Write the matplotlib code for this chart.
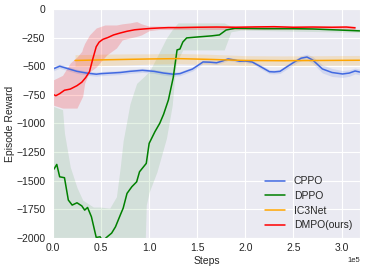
import matplotlib
matplotlib.use("Agg")
import matplotlib.pyplot as plt
import seaborn as sns
import numpy as np

sns.set_style("darkgrid")
plt.rcParams['font.family'] = ['Liberation Sans', 'DejaVu Sans']

# ---- data (steps in units of 1e5) ----
cppo_x = [0, 0.07, 0.15, 0.25, 0.35, 0.45, 0.5, 0.6, 0.7, 0.8, 0.93, 1.05, 1.15, 1.25, 1.32, 1.4, 1.45,
          1.56, 1.63, 1.7, 1.76, 1.82, 1.88, 1.94, 2.0, 2.07, 2.15, 2.25, 2.3, 2.36, 2.45, 2.51, 2.58,
          2.64, 2.7, 2.8, 2.9, 3.01, 3.08, 3.14, 3.2]
cppo_y = [-525, -500, -520, -545, -560, -570, -565, -560, -555, -545, -536, -545, -560, -570, -565, -540, -525,
          -463, -465, -470, -455, -437, -445, -457, -455, -463, -500, -548, -550, -545, -495, -463, -430,
          -420, -446, -524, -555, -568, -560, -542, -553]
cppo_err = [18, 18, 18, 18, 18, 18, 18, 18, 18, 18, 18, 18, 18, 18, 18, 18, 18,
            15, 15, 15, 15, 15, 15, 15, 15, 15, 18, 18, 18, 18, 20, 20, 22,
            25, 30, 35, 35, 30, 28, 25, 25]

ic3_x = [0.23, 0.5, 0.8, 1.0, 1.3, 1.6, 2.0, 2.4, 2.8, 3.2]
ic3_y = [-450, -445, -440, -437, -434, -440, -450, -452, -450, -448]
ic3_err = [50, 50, 48, 45, 45, 45, 42, 42, 42, 42]

dmpo_x = [0, 0.03, 0.07, 0.12, 0.18, 0.25, 0.3, 0.34, 0.38, 0.41, 0.45, 0.48, 0.52, 0.57, 0.63, 0.7,
          0.77, 0.85, 0.94, 1.02, 1.11, 1.2, 1.32, 1.5, 1.7, 1.9, 2.1, 2.3, 2.5, 2.7, 2.9, 3.05, 3.14]
dmpo_y = [-745, -758, -740, -710, -700, -670, -640, -600, -548, -450, -330, -290, -265, -250, -227, -210,
          -195, -182, -175, -170, -166, -163, -163, -160, -158, -160, -157, -155, -160, -158, -160, -158, -165]
dmpo_band_x = [0, 0.1, 0.18, 0.25, 0.3, 0.31, 0.33, 0.38, 0.45, 0.54, 0.56, 0.66, 0.72, 0.8, 0.87, 0.92,
               1.0, 1.1, 3.14]
dmpo_upper = [-621, -580, -472, -420, -370, -341, -300, -227, -166, -140, -140, -140, -130, -122, -110, -130,
              -150, -150, -150]
dmpo_lower = [-839, -866, -866, -866, -778, -760, -647, -551, -507, -420, -402, -341, -271, -253, -240, -227,
              -190, -180, -180]

dppo_x = [0.01, 0.04, 0.07, 0.12, 0.16, 0.2, 0.25, 0.3, 0.33, 0.36, 0.4, 0.45, 0.49, 0.52, 0.55, 0.61,
          0.65, 0.7, 0.73, 0.77, 0.82, 0.87, 0.9, 0.97, 1.0, 1.06, 1.11, 1.15, 1.2, 1.25, 1.29, 1.32,
          1.35, 1.39, 1.5, 1.65, 1.73, 1.8, 1.89, 2.2, 2.5, 2.7, 3.0, 3.2]
dppo_y = [-1400, -1358, -1466, -1474, -1669, -1713, -1693, -1720, -1757, -1734, -1815, -1996, -1990, -2030,
          -2000, -1958, -1903, -1800, -1740, -1611, -1553, -1510, -1422, -1349, -1174, -1072, -999, -920,
          -795, -600, -358, -350, -289, -253, -245, -235, -227, -184, -169, -172, -172, -175, -185, -192]
dppo_band_x = [0, 0.1, 0.12, 0.18, 0.25, 0.31, 0.42, 0.49, 0.59, 0.66, 0.7, 0.73, 0.77, 0.8, 0.87, 0.96,
               0.97, 1.0, 1.08, 1.18, 1.24, 1.27, 1.29, 1.3, 1.35, 1.78, 1.85, 1.95, 3.2]
dppo_upper = [-850, -880, -1085, -1380, -1560, -1670, -1730, -1730, -1740, -1640, -1380, -1150, -970, -830,
              -650, -580, -570, -550, -420, -253, -180, -150, -130, -122, -122, -122, -150, -160, -175]
dppo_lower = [-2100, -2100, -2100, -2100, -2100, -2100, -2100, -2100, -2100, -2100, -2100, -2100, -2100,
              -2100, -2100, -2000, -1713, -1600, -1425, -1128, -839, -551, -430, -440, -358, -358, -200,
              -185, -205]

labels = ["CPPO", "DPPO", "IC3Net", "DMPO(ours)"]
colors = ["royalblue", "green", "orange", "red"]

fig = plt.figure(figsize=(3.65, 2.71), dpi=100)
ax = fig.add_axes([0.145, 0.122, 0.841, 0.845])

S = 1e5
def arr(v):
    return np.asarray(v, dtype=float)

# bands
ax.fill_between(arr(cppo_x) * S, arr(cppo_y) - arr(cppo_err), arr(cppo_y) + arr(cppo_err),
                color=colors[0], alpha=0.15, lw=0)
ax.fill_between(arr(dppo_band_x) * S, dppo_lower, dppo_upper, color=colors[1], alpha=0.1, lw=0)
ax.fill_between(arr(ic3_x) * S, arr(ic3_y) - arr(ic3_err), arr(ic3_y) + arr(ic3_err),
                color=colors[2], alpha=0.18, lw=0)
ax.fill_between(arr(dmpo_band_x) * S, dmpo_lower, dmpo_upper, color=colors[3], alpha=0.18, lw=0)

# lines
ax.plot(arr(cppo_x) * S, cppo_y, color=colors[0], lw=1.1, label=labels[0])
ax.plot(arr(dppo_x) * S, dppo_y, color=colors[1], lw=1.1, label=labels[1])
ax.plot(arr(ic3_x) * S, ic3_y, color=colors[2], lw=1.1, label=labels[2])
ax.plot(arr(dmpo_x) * S, dmpo_y, color=colors[3], lw=1.1, label=labels[3])

ax.set_xlim(0, 3.19e5)
ax.set_ylim(-2000, 0)
ax.set_yticks([0, -250, -500, -750, -1000, -1250, -1500, -1750, -2000])
ax.set_xticks([0, 0.5e5, 1.0e5, 1.5e5, 2.0e5, 2.5e5, 3.0e5])
ax.ticklabel_format(axis='x', style='sci', scilimits=(0, 0))
ax.xaxis.get_offset_text().set_fontsize(5.5)
ax.tick_params(axis='y', labelsize=7.5, pad=5.5, length=0)
ax.tick_params(axis='x', labelsize=7.5, pad=3.5, length=0)
ax.set_xlabel("Steps", fontsize=7.5, labelpad=2)
ax.set_ylabel("Episode Reward", fontsize=7.5, labelpad=0.5)

leg = ax.legend(loc="lower right", bbox_to_anchor=(1.005, -0.008), fontsize=7.5, frameon=False,
                handlelength=2.0, handletextpad=0.8, labelspacing=0.45)

fig.savefig("out.png", dpi=100)
